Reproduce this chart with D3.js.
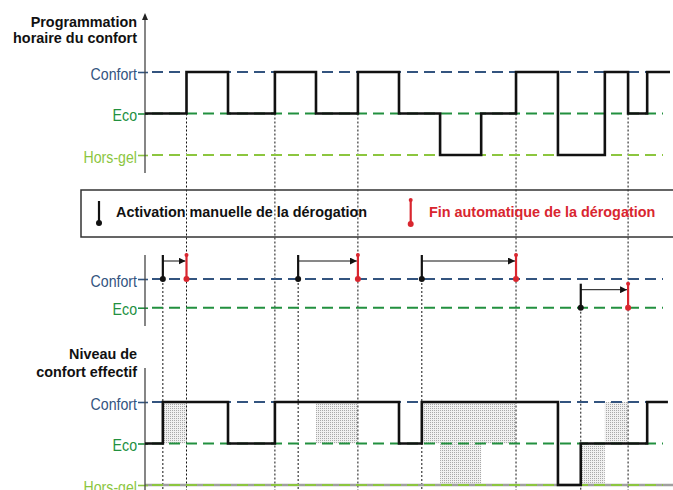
<!DOCTYPE html>
<html>
<head>
<meta charset="utf-8">
<script src="https://cdn.jsdelivr.net/npm/d3@7"></script>
<style>
  body { margin: 0; background: #fff; }
  svg { display: block; font-family: "Liberation Sans", Arial, Helvetica, sans-serif; }
</style>
</head>
<body>
<svg id="chart" width="673" height="490"></svg>
<script>
// ---------------- DATA ----------------
const levels = ["Hors-gel", "Eco", "Confort"];
const midLevels = ["Eco", "Confort"];

// Programmed comfort schedule (step changes)
const progTimes  = [0, 1.0, 2.0, 3.13, 4.12, 5.13, 6.12, 7.11, 8.1, 8.94, 9.95, 11.08, 11.64, 12.1];
const progLevels = ["Eco", "Confort", "Eco", "Confort", "Eco", "Confort", "Eco", "Hors-gel", "Eco", "Confort", "Hors-gel", "Confort", "Eco", "Confort"];
const progEnd = 12.65;

// Effective comfort level
const effTimes  = [0, 0.43, 2.0, 3.13, 6.12, 6.67, 9.95, 10.5, 12.1];
const effLevels = ["Eco", "Confort", "Eco", "Confort", "Eco", "Confort", "Hors-gel", "Eco", "Confort"];
const effEnd = 12.6;

// Derogations (manual activation -> automatic end)
const derogStart = [0.43, 3.69, 6.67, 10.5];
const derogEnd   = [1.0, 5.13, 8.94, 11.64];
const derogLevel = ["Confort", "Confort", "Confort", "Eco"];

// Reference times drawn as dotted verticals from the schedule
const markerTimes = [1.0, 3.13, 5.13, 8.94, 11.64];

const titleTop = ["Programmation", "horaire du confort"];
const titleBottom = ["Niveau de", "confort effectif"];
const legendLabels = ["Activation manuelle de la dérogation", "Fin automatique de la dérogation"];

// ---------------- STYLE ----------------
const levelColor = { "Confort": "#33547f", "Eco": "#22903f", "Hors-gel": "#8cc63f" };
const red = "#d9262f";

// ---------------- SCALES ----------------
const svg = d3.select("#chart");
const x = d3.scaleLinear().domain([0, progEnd]).range([145, 670]);
const yTop = d3.scalePoint().domain(levels).range([155, 72]);
const yMid = d3.scalePoint().domain(midLevels).range([307.7, 279]);
const yBot = d3.scalePoint().domain(levels).range([485, 402]);
const axisX = x(0);
const lineEnd = x.range()[1] - 7;
const bottomY = 492;

const defs = svg.append("defs");
const pat = defs.append("pattern").attr("id", "dots").attr("width", 2).attr("height", 2)
  .attr("patternUnits", "userSpaceOnUse");
pat.append("rect").attr("width", 2).attr("height", 2).attr("fill", "#f1f1f1");
pat.append("rect").attr("width", 1).attr("height", 1).attr("fill", "#a9a9a9");
defs.append("marker").attr("id", "arrow").attr("viewBox", "0 0 10 10")
  .attr("refX", 10).attr("refY", 5).attr("markerWidth", 7).attr("markerHeight", 7)
  .attr("markerUnits", "userSpaceOnUse").attr("orient", "auto")
  .append("path").attr("d", "M0,0 L10,5 L0,10 Z").attr("fill", "#111");

function levelAt(times, lv, t) {
  let idx = 0;
  for (let i = 0; i < times.length; i++) if (times[i] <= t + 1e-9) idx = i;
  return lv[idx];
}

// ---------------- SHADING (bottom) ----------------
const allT = Array.from(new Set([...progTimes, ...effTimes, effEnd])).sort((a, b) => a - b);
const shade = [];
for (let i = 0; i < allT.length - 1; i++) {
  const t0 = allT[i], t1 = allT[i + 1];
  const p = levelAt(progTimes, progLevels, t0), e = levelAt(effTimes, effLevels, t0);
  if (p !== e) shade.push({ t0, t1, p, e });
}
svg.append("g").selectAll("rect").data(shade).join("rect")
  .attr("x", d => x(d.t0)).attr("width", d => x(d.t1) - x(d.t0))
  .attr("y", d => Math.min(yBot(d.p), yBot(d.e)))
  .attr("height", d => Math.abs(yBot(d.p) - yBot(d.e)))
  .attr("fill", "url(#dots)");

// ---------------- DOTTED VERTICALS ----------------
const dotted = svg.append("g").attr("stroke", "#111").attr("stroke-width", 1).attr("stroke-dasharray", "2,2");
dotted.selectAll("line.m").data(markerTimes).join("line").attr("class", "m")
  .attr("x1", d => x(d)).attr("x2", d => x(d))
  .attr("y1", yTop("Eco")).attr("y2", bottomY);
dotted.selectAll("line.s").data(derogStart).join("line").attr("class", "s")
  .attr("x1", d => x(d)).attr("x2", d => x(d))
  .attr("y1", (d, i) => yMid(derogLevel[i])).attr("y2", bottomY);

// ---------------- AXES ----------------
function drawLevelAxis(scale, doms, y0, y1, withArrow) {
  const g = svg.append("g").attr("transform", `translate(${axisX},0)`);
  g.call(d3.axisLeft(scale).tickSizeInner(7).tickSizeOuter(0).tickPadding(0));
  g.select(".domain").remove();
  g.selectAll(".tick line").attr("x1", 3).attr("stroke", d => levelColor[d]).attr("stroke-width", 1.6);
  g.selectAll(".tick text")
    .attr("x", -9).attr("dy", "0.44em")
    .attr("transform", "scale(0.886,1)")
    .attr("font-size", 16).attr("font-family", '"Liberation Sans", Arial, sans-serif')
    .attr("fill", d => levelColor[d]);
  svg.append("line").attr("x1", axisX).attr("x2", axisX).attr("y1", y0).attr("y2", y1)
    .attr("stroke", "#444").attr("stroke-width", 1.3);
  if (withArrow) {
    svg.append("path").attr("d", `M${axisX},${y0 - 2} L${axisX - 3},${y0 + 5} L${axisX + 3},${y0 + 5} Z`).attr("fill", "#222");
  }
  // dashed reference lines
  svg.append("g").selectAll("line").data(doms).join("line")
    .attr("x1", axisX + 3).attr("x2", lineEnd)
    .attr("y1", d => scale(d)).attr("y2", d => scale(d))
    .attr("stroke", d => levelColor[d]).attr("stroke-width", 2)
    .attr("stroke-dasharray", "11,6").attr("stroke-dashoffset", -4);
}

// bottom x baseline (grey) under Hors-gel line
svg.append("line").attr("x1", axisX).attr("x2", 673).attr("y1", yBot("Hors-gel")).attr("y2", yBot("Hors-gel"))
  .attr("stroke", "#a0a0a0").attr("stroke-width", 2.4);

drawLevelAxis(yTop, levels, 15, 173, true);
drawLevelAxis(yMid, midLevels, 255, 326, false);
drawLevelAxis(yBot, levels, 368, 492, false);
// thicken bottom Hors-gel line
svg.select("g:last-of-type");

// ---------------- TITLES ----------------
function title(lines, y0, dy) {
  svg.append("g").selectAll("text").data(lines).join("text")
    .attr("x", 137).attr("y", (d, i) => y0 + i * dy)
    .attr("text-anchor", "end").attr("font-weight", "bold").attr("font-size", 14.4)
    .attr("fill", "#111").text(d => d);
}
title(titleTop, 26.7, 16);
title(titleBottom, 359.3, 17.4);

// ---------------- STEP LINES ----------------
const step = d3.line().x(d => x(d.t)).curve(d3.curveStepAfter);
const progPts = progTimes.map((t, i) => ({ t, l: progLevels[i] })).concat([{ t: progEnd, l: progLevels[progLevels.length - 1] }]);
const effPts = effTimes.map((t, i) => ({ t, l: effLevels[i] })).concat([{ t: effEnd, l: effLevels[effLevels.length - 1] }]);
svg.append("path").datum(progPts).attr("d", step.y(d => yTop(d.l)))
  .attr("fill", "none").attr("stroke", "#111").attr("stroke-width", 2.6);
svg.append("path").datum(effPts).attr("d", step.y(d => yBot(d.l)))
  .attr("fill", "none").attr("stroke", "#111").attr("stroke-width", 2.6);

// ---------------- LEGEND ----------------
const lg = svg.append("g");
lg.append("rect").attr("x", 81).attr("y", 190).attr("width", 600).attr("height", 47)
  .attr("fill", "none").attr("stroke", "#333").attr("stroke-width", 1.5);
lg.append("line").attr("x1", 99).attr("x2", 99).attr("y1", 201).attr("y2", 223).attr("stroke", "#111").attr("stroke-width", 2.2);
lg.append("circle").attr("cx", 99).attr("cy", 223).attr("r", 3).attr("fill", "#111");
lg.append("text").attr("x", 116).attr("y", 217.3).attr("font-weight", "bold").attr("font-size", 14.4)
  .attr("fill", "#111").text(legendLabels[0]);
lg.append("line").attr("x1", 410.7).attr("x2", 410.7).attr("y1", 200).attr("y2", 224).attr("stroke", red).attr("stroke-width", 2.2);
lg.append("circle").attr("cx", 410.7).attr("cy", 224).attr("r", 3).attr("fill", red);
lg.append("circle").attr("cx", 410.7).attr("cy", 200).attr("r", 2).attr("fill", red);
lg.append("text").attr("x", 429).attr("y", 217.3).attr("font-weight", "bold").attr("font-size", 14.4)
  .attr("fill", red).text(legendLabels[1]);

// ---------------- DEROGATIONS (middle) ----------------
const derogs = derogStart.map((s, i) => ({ s, e: derogEnd[i], l: derogLevel[i] }));
const dg = svg.append("g").selectAll("g").data(derogs).join("g");
dg.append("line").attr("x1", d => x(d.s)).attr("x2", d => x(d.e) - 1)
  .attr("y1", d => yMid(d.l) - 18).attr("y2", d => yMid(d.l) - 18)
  .attr("stroke", "#111").attr("stroke-width", 1).attr("marker-end", "url(#arrow)");
dg.append("line").attr("x1", d => x(d.s)).attr("x2", d => x(d.s))
  .attr("y1", d => yMid(d.l) - 24).attr("y2", d => yMid(d.l))
  .attr("stroke", "#111").attr("stroke-width", 2.2);
dg.append("circle").attr("cx", d => x(d.s)).attr("cy", d => yMid(d.l)).attr("r", 3).attr("fill", "#111");
dg.append("line").attr("x1", d => x(d.e)).attr("x2", d => x(d.e))
  .attr("y1", d => yMid(d.l) - 24).attr("y2", d => yMid(d.l))
  .attr("stroke", red).attr("stroke-width", 2.2);
dg.append("circle").attr("cx", d => x(d.e)).attr("cy", d => yMid(d.l)).attr("r", 3).attr("fill", red);
dg.append("circle").attr("cx", d => x(d.e)).attr("cy", d => yMid(d.l) - 24).attr("r", 2).attr("fill", red);
</script>
</body>
</html>
